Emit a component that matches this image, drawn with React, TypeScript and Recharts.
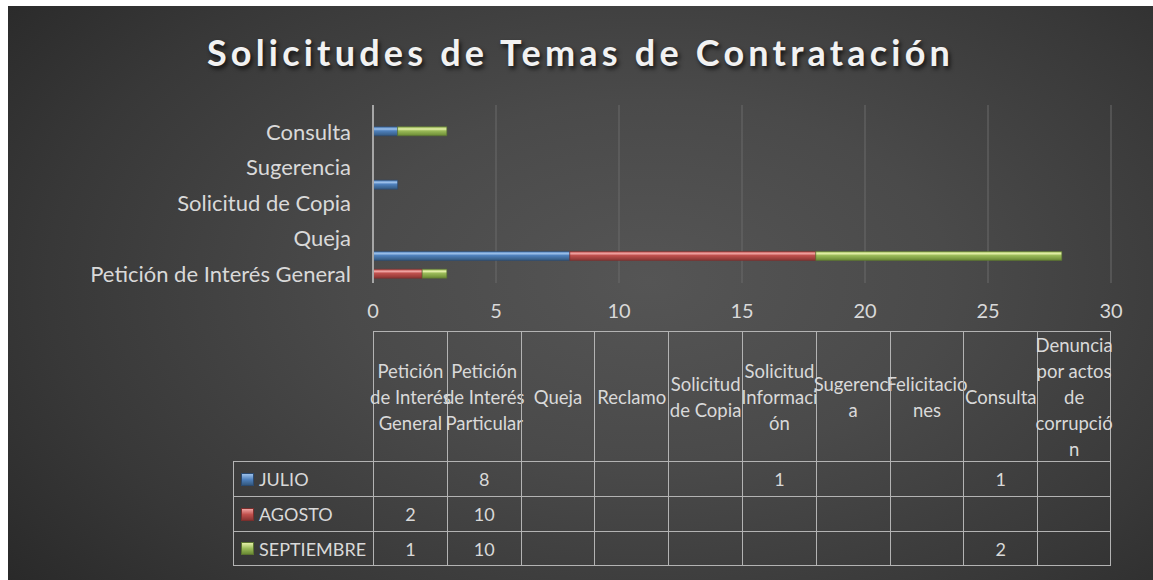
import { Bar, BarChart, CartesianGrid, XAxis, YAxis } from 'recharts';

const categories = [
  'Petición de Interés General',
  'Petición de Interés Particular',
  'Queja',
  'Reclamo',
  'Solicitud de Copia',
  'Solicitud Información',
  'Sugerencia',
  'Felicitaciones',
  'Consulta',
  'Denuncia por actos de corrupción',
];

// how the data table header wraps each category
const headerLines = [
  ['Petición', 'de Interés', 'General'],
  ['Petición', 'de Interés', 'Particular'],
  ['Queja'],
  ['Reclamo'],
  ['Solicitud', 'de Copia'],
  ['Solicitud', 'Informaci', 'ón'],
  ['Sugerenci', 'a'],
  ['Felicitacio', 'nes'],
  ['Consulta'],
  ['Denuncia', 'por actos', 'de', 'corrupció', 'n'],
];

const julio = [null, 8, null, null, null, 1, null, null, 1, null];
const agosto = [2, 10, null, null, null, null, null, null, null, null];
const septiembre = [1, 10, null, null, null, null, null, null, 2, null];

const xTicks = [0, 5, 10, 15, 20, 25, 30];

const series = [
  { key: 'julio', label: 'JULIO', values: julio, grad: 'gBlue', stroke: '#2b4a70', light: '#9cc0ea', base: '#4f81bd', dark: '#34597f' },
  { key: 'agosto', label: 'AGOSTO', values: agosto, grad: 'gRed', stroke: '#7a2f2d', light: '#f0a3a1', base: '#c0504d', dark: '#8a3533' },
  { key: 'septiembre', label: 'SEPTIEMBRE', values: septiembre, grad: 'gGreen', stroke: '#5b7330', light: '#e4f0a8', base: '#9bbb59', dark: '#6a8a34' },
];

const data = categories.map((name, i) => ({
  name,
  julio: julio[i],
  agosto: agosto[i],
  septiembre: septiembre[i],
}));

const W = 1145;
const H = 574;
const plotLeft = 365;
const plotRight = 1103;
const plotTop = 99;
const plotBottom = 277;
const colW = (plotRight - plotLeft) / categories.length;
const legendLeft = 225;
const headTop = 325;
const headBottom = 455;
const rowH = 35;
const lineColor = '#b3b3b3';
const textColor = '#d9d9d9';
const font = 'Lato, "Open Sans", sans-serif';

export default function App() {
  return (
    <div
      style={{
        position: 'absolute',
        left: 8,
        top: 6,
        width: W,
        height: H,
        overflow: 'hidden',
        background: 'radial-gradient(ellipse 75% 90% at 56% 48%, #555555 0%, #4a4a4a 35%, #383838 70%, #262626 100%)',
        fontFamily: font,
      }}
    >
      <div
        style={{
          position: 'absolute',
          top: 24,
          left: 0,
          width: W,
          textAlign: 'center',
          color: '#f2f2f2',
          fontSize: 36,
          fontWeight: 700,
          letterSpacing: 4.2,
          textShadow: '2px 3px 4px rgba(0,0,0,0.7)',
        }}
      >
        Solicitudes de Temas de Contratación
      </div>
      <BarChart
        width={W}
        height={H}
        data={data}
        layout="vertical"
        margin={{ top: plotTop, right: W - plotRight, bottom: H - plotBottom - 40, left: 0 }}
        barSize={9}
        style={{ position: 'absolute', left: 0, top: 0 }}
      >
        <defs>
          {series.map((s) => (
            <linearGradient key={s.grad} id={s.grad} x1="0" y1="0" x2="0" y2="1">
              <stop offset="0%" stopColor={s.base} />
              <stop offset="25%" stopColor={s.light} />
              <stop offset="45%" stopColor={s.base} />
              <stop offset="100%" stopColor={s.dark} />
            </linearGradient>
          ))}
        </defs>
        <CartesianGrid horizontal={false} stroke="#6a6a6a" strokeWidth={1} />
        <XAxis
          type="number"
          domain={[0, 30]}
          ticks={xTicks}
          axisLine={false}
          tickLine={false}
          tickSize={0}
          tickMargin={21}
          height={40}
          tick={{ fill: textColor, fontSize: 20, fontFamily: font }}
        />
        <YAxis
          type="category"
          dataKey="name"
          reversed
          interval={1}
          width={plotLeft}
          tickLine={false}
          tickSize={0}
          tickMargin={22}
          axisLine={{ stroke: '#a6a6a6', strokeWidth: 2 }}
          tick={{ fill: textColor, fontSize: 22, fontFamily: font }}
        />
        {series.map((s) => (
          <Bar
            key={s.key}
            dataKey={s.key}
            stackId="a"
            fill={`url(#${s.grad})`}
            stroke={s.stroke}
            strokeWidth={0.6}
            isAnimationActive={false}
          />
        ))}
      </BarChart>

      {/* data table */}
      <div style={{ position: 'absolute', left: 0, top: 0, width: W, height: H, pointerEvents: 'none', color: textColor }}>
        {headerLines.map((lines, i) => (
          <div
            key={`h${i}`}
            style={{
              position: 'absolute',
              left: plotLeft + i * colW,
              top: headTop,
              width: colW,
              height: headBottom - headTop,
              boxSizing: 'border-box',
              borderLeft: `1.5px solid ${lineColor}`,
              borderTop: `1.5px solid ${lineColor}`,
              borderRight: i === headerLines.length - 1 ? `1.5px solid ${lineColor}` : undefined,
              display: 'flex',
              flexDirection: 'column',
              justifyContent: 'center',
              alignItems: 'center',
              fontSize: 18.5,
              lineHeight: '26px',
              whiteSpace: 'nowrap',
            }}
          >
            {lines.map((l, j) => (
              <div key={j}>{l}</div>
            ))}
          </div>
        ))}
        {series.map((s, r) => (
          <div key={s.key}>
            <div
              style={{
                position: 'absolute',
                left: legendLeft,
                top: headBottom + r * rowH,
                width: plotLeft - legendLeft,
                height: rowH,
                boxSizing: 'border-box',
                border: `1.5px solid ${lineColor}`,
                borderRight: 'none',
                borderBottom: r === series.length - 1 ? `1.5px solid ${lineColor}` : 'none',
                display: 'flex',
                alignItems: 'center',
                fontSize: 18,
              }}
            >
              <span
                style={{
                  display: 'inline-block',
                  width: 11,
                  height: 11,
                  marginLeft: 7,
                  marginRight: 5,
                  background: `linear-gradient(${s.light}, ${s.base} 50%, ${s.dark})`,
                  border: `0.5px solid ${s.stroke}`,
                }}
              />
              {s.label}
            </div>
            {s.values.map((v, i) => (
              <div
                key={i}
                style={{
                  position: 'absolute',
                  left: plotLeft + i * colW,
                  top: headBottom + r * rowH,
                  width: colW,
                  height: rowH,
                  boxSizing: 'border-box',
                  borderLeft: `1.5px solid ${lineColor}`,
                  borderTop: `1.5px solid ${lineColor}`,
                  borderRight: i === s.values.length - 1 ? `1.5px solid ${lineColor}` : undefined,
                  borderBottom: r === series.length - 1 ? `1.5px solid ${lineColor}` : undefined,
                  display: 'flex',
                  alignItems: 'center',
                  justifyContent: 'center',
                  fontSize: 18,
                }}
              >
                {v ?? ''}
              </div>
            ))}
          </div>
        ))}
      </div>
    </div>
  );
}
